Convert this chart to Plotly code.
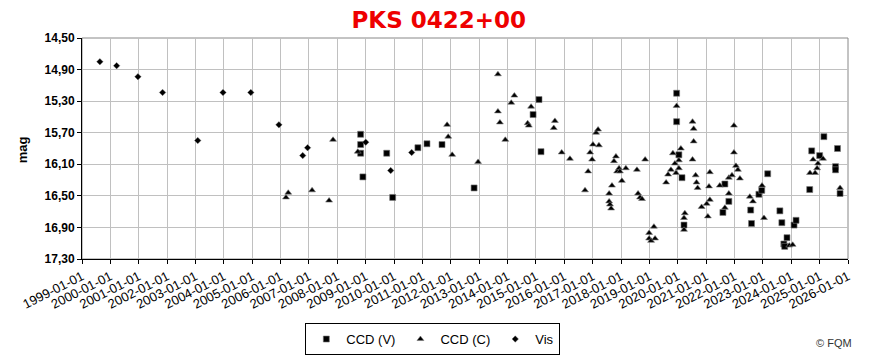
import numpy as np
import pandas as pd
import plotly.graph_objects as go

# ---- data (decimal year, magnitude) ----
vis_year = [1999.63, 2000.22, 2000.97, 2001.84, 2003.08, 2003.97, 2004.95, 2005.94,
            2006.78, 2006.95, 2009.00, 2009.88, 2010.62]
vis_mag = [14.80, 14.85, 14.99, 15.19, 15.80, 15.19, 15.19, 15.60,
           15.99, 15.89, 15.82, 16.18, 15.95]

ccdv_year = [2008.82, 2008.82, 2008.82, 2008.90, 2009.74, 2009.95, 2010.84, 2011.16,
             2011.69, 2012.82, 2014.90, 2015.11, 2015.18, 2019.96, 2019.96, 2020.04,
             2020.15, 2020.22, 2021.59, 2021.66, 2021.80, 2022.57, 2022.60, 2022.86,
             2022.96, 2023.17, 2023.60, 2023.67, 2023.74, 2023.77, 2023.85, 2024.10,
             2024.17, 2024.65, 2024.72, 2025.00, 2025.15, 2025.56, 2025.56, 2025.63,
             2025.72]
ccdv_mag = [15.72, 15.85, 15.96, 16.26, 15.96, 16.52, 15.89, 15.84,
            15.85, 16.40, 15.47, 15.28, 15.94, 15.20, 15.56, 15.98,
            16.27, 16.87, 16.71, 16.35, 16.57, 16.68, 16.85, 16.48,
            16.43, 16.22, 16.69, 16.84, 17.11, 17.14, 17.03, 16.87,
            16.81, 16.42, 15.93, 15.99, 15.75, 16.13, 16.17, 15.90,
            16.47]

ccdc_year = [2006.19, 2006.27, 2007.11, 2007.71, 2007.85, 2008.72, 2011.87, 2011.91,
             2012.05, 2012.96, 2013.66, 2013.66, 2013.73, 2013.92, 2014.13, 2014.24,
             2014.71, 2014.75, 2014.83, 2015.63, 2015.67, 2015.91, 2016.20, 2016.73,
             2016.84, 2016.91, 2016.98, 2017.01, 2017.12, 2017.19, 2017.22, 2017.58,
             2017.58, 2017.61, 2017.65, 2017.68, 2017.75, 2017.82, 2017.86, 2017.93,
             2017.96, 2018.03, 2018.17, 2018.56, 2018.60, 2018.67, 2018.74, 2018.85,
             2018.99, 2018.99, 2019.06, 2019.16, 2019.20, 2019.59, 2019.66, 2019.76,
             2019.83, 2019.90, 2019.94, 2019.96, 2020.04, 2020.04, 2020.11, 2020.22,
             2020.22, 2020.25, 2020.52, 2020.56, 2020.56, 2020.52, 2020.63, 2020.66,
             2020.70, 2020.84, 2021.02, 2021.06, 2021.10, 2021.13, 2021.13, 2021.48,
             2021.66, 2021.80, 2021.80, 2021.91, 2021.98, 2021.98, 2022.05, 2022.12,
             2022.19, 2022.54, 2022.65, 2022.97, 2023.04, 2023.93, 2024.05, 2024.66,
             2024.77, 2024.84, 2024.91, 2024.94, 2025.12, 2025.72]
ccdc_mag = [16.52, 16.46, 16.43, 16.56, 15.79, 15.94, 15.60, 15.75,
            15.98, 16.07, 14.96, 15.43, 15.57, 15.79, 15.32, 15.23,
            15.58, 15.61, 15.37, 15.64, 15.55, 15.95, 16.03, 16.43,
            16.19, 15.95, 16.04, 15.85, 15.70, 15.66, 15.86, 16.47,
            16.57, 16.61, 16.66, 16.37, 16.06, 16.00, 16.19, 16.15,
            16.19, 16.31, 16.15, 16.17, 16.47, 16.52, 16.54, 16.04,
            16.97, 17.04, 17.07, 16.89, 17.04, 16.33, 16.23, 16.17,
            15.96, 16.09, 16.21, 15.36, 16.05, 16.15, 15.90, 16.93,
            16.78, 16.72, 15.56, 15.65, 15.81, 16.04, 16.24, 16.33,
            16.40, 16.64, 16.60, 16.76, 16.38, 16.20, 16.55, 16.37,
            16.65, 16.47, 16.27, 16.24, 15.61, 15.95, 16.12, 16.17,
            16.28, 16.51, 16.57, 16.37, 16.78, 17.13, 17.12, 16.21,
            16.04, 16.21, 16.15, 16.09, 16.03, 16.40]

ytick_vals = [14.50, 14.90, 15.30, 15.70, 16.10, 16.50, 16.90, 17.30]
x_start = "1999-01-01"
x_end = "2026-01-01"


def to_date(y):
    yr = int(np.floor(y))
    start = pd.Timestamp(year=yr, month=1, day=1)
    end = pd.Timestamp(year=yr + 1, month=1, day=1)
    return start + (end - start) * (y - yr)


FONT = "Liberation Sans, Arial, sans-serif"

fig = go.Figure()
fig.add_trace(go.Scatter(
    x=[to_date(v) for v in ccdv_year], y=ccdv_mag, mode="markers", name="CCD (V)",
    marker=dict(symbol="square", size=6, color="black", line=dict(color="#777", width=0.6))))
fig.add_trace(go.Scatter(
    x=[to_date(v) for v in ccdc_year], y=ccdc_mag, mode="markers", name="CCD (C)",
    marker=dict(symbol="triangle-up", size=6, color="black", line=dict(color="#777", width=0.6))))
fig.add_trace(go.Scatter(
    x=[to_date(v) for v in vis_year], y=vis_mag, mode="markers", name="Vis",
    marker=dict(symbol="diamond", size=5, color="black", line=dict(color="#777", width=0.4))))

fig.update_layout(
    width=874, height=362,
    margin=dict(l=82, r=26, t=38, b=103, autoexpand=False),
    paper_bgcolor="white", plot_bgcolor="white",
    separators=", ",
    font=dict(family=FONT, size=12, color="black"),
    title=dict(text="PKS 0422+00", x=0.502, xref="container", y=0.945, yref="container",
               xanchor="center", yanchor="middle",
               font=dict(family="DejaVu Sans, Verdana, sans-serif", size=23, color="#ee0000", weight="bold")),
    showlegend=True,
    legend=dict(orientation="h", x=0.458, xanchor="center", y=-0.29, yanchor="top",
                bordercolor="black", borderwidth=1, bgcolor="white",
                font=dict(family=FONT, size=13, color="black"), itemwidth=30),
    shapes=[dict(type="rect", xref="paper", yref="paper", x0=0, x1=1, y0=0, y1=1,
                 line=dict(color="#888888", width=1), layer="below")],
    annotations=[
        dict(text="mag", xref="paper", yref="paper", x=-0.078, y=0.493, textangle=-90,
             xanchor="center", yanchor="middle",
             showarrow=False, font=dict(family=FONT, size=13, color="black", weight="bold")),
        dict(text="© FQM", xref="paper", yref="paper", x=0.982, y=-0.38, showarrow=False,
             xanchor="center", yanchor="middle",
             font=dict(family=FONT, size=11, color="#333333")),
    ],
)

fig.update_xaxes(
    type="date", range=[x_start, x_end], tickmode="linear", tick0=x_start, dtick="M12",
    tickformat="%Y-%m-%d", tickangle=-27, automargin=False,
    showgrid=True, gridcolor="#c0c0c0", gridwidth=1,
    showline=True, linecolor="black", linewidth=1,
    ticks="outside", ticklen=4, tickcolor="black",
    tickfont=dict(family=FONT, size=13, color="black"), zeroline=False,
)
fig.update_yaxes(
    range=[17.3, 14.5], tickmode="array", tickvals=ytick_vals, tickformat=".2f",
    automargin=False,
    showgrid=True, gridcolor="#c0c0c0", gridwidth=1,
    showline=True, linecolor="black", linewidth=1,
    ticks="outside", ticklen=4, tickcolor="black",
    tickfont=dict(family=FONT, size=12, color="black", weight="bold"), zeroline=False,
)

fig.write_html("out.html", config={"displayModeBar": False},
               post_script="document.body.style.margin='0';")
